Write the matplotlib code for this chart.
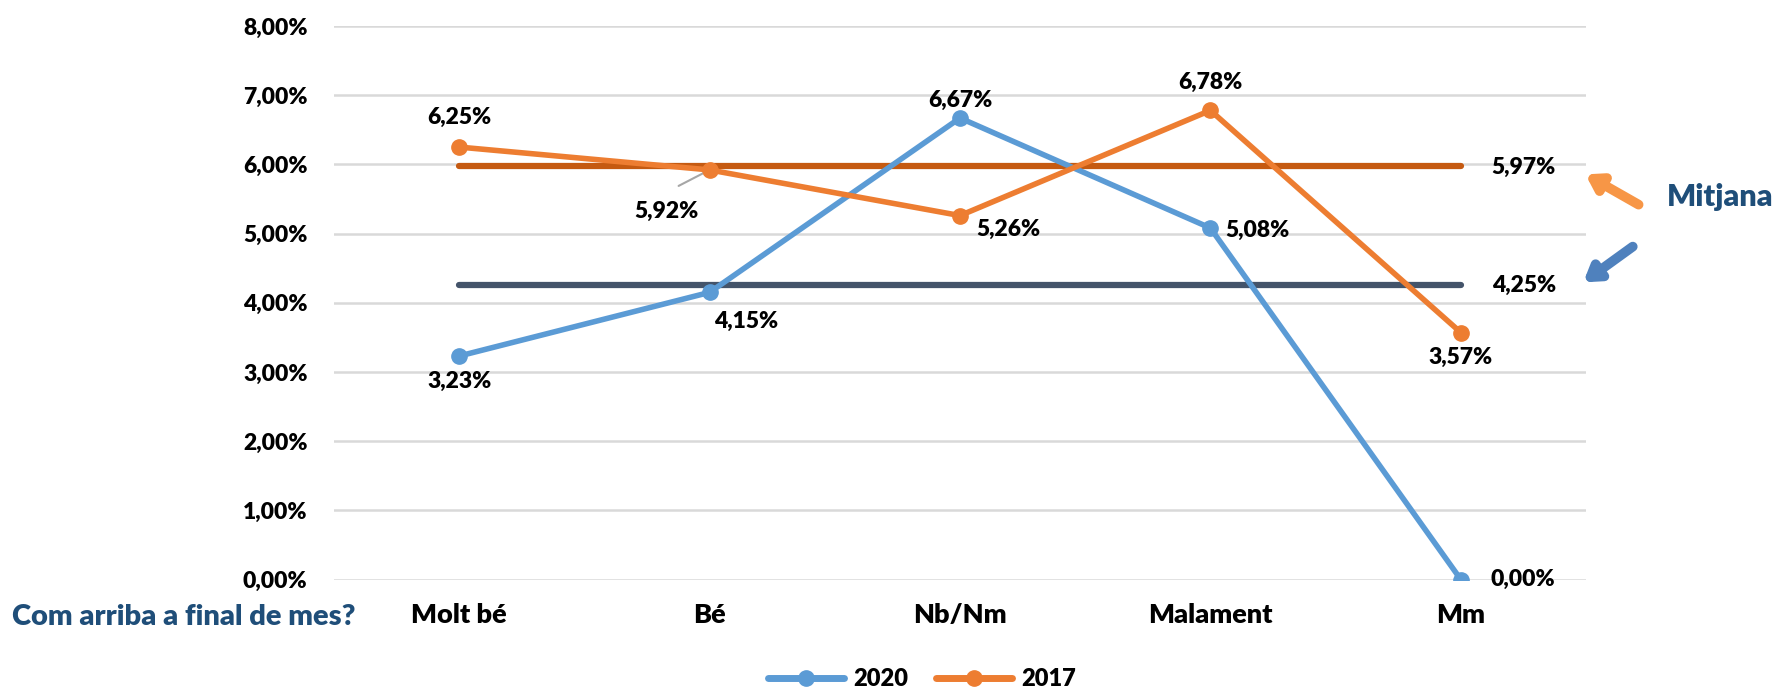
import matplotlib
matplotlib.use("Agg")
import matplotlib.pyplot as plt
from matplotlib.lines import Line2D
from matplotlib.patches import FancyArrowPatch

categories = ["Molt bé", "Bé", "Nb/Nm", "Malament", "Mm"]
s2020 = [3.23, 4.15, 6.67, 5.08, 0.00]
s2017 = [6.25, 5.92, 5.26, 6.78, 3.57]
mean2017 = 5.97
mean2020 = 4.25
yticks = [0, 1, 2, 3, 4, 5, 6, 7, 8]

C2020 = "#5B9BD5"
C2017 = "#ED7D31"
CM17 = "#C55A11"
CM20 = "#44546A"
NAVY = "#1F4E79"

NUM = 16.5
WORD = 19.5
W = 'heavy'

plt.rcParams['font.family'] = ['Lato', 'DejaVu Sans']
plt.rcParams['font.weight'] = W

fig = plt.figure(figsize=(17.78, 6.93), dpi=100)
ax = fig.add_axes([334/1778, 1-579.5/693, (1586-334)/1778, (579.5-26)/693])

x = list(range(len(categories)))
ax.plot([x[0], x[-1]], [mean2017]*2, color=CM17, lw=4.5, solid_capstyle='round', zorder=2)
ax.plot([x[0], x[-1]], [mean2020]*2, color=CM20, lw=4.5, solid_capstyle='round', zorder=2)
ax.plot(x, s2020, color=C2020, lw=4, marker='o', ms=11, zorder=3, label="2020")
ax.plot(x, s2017, color=C2017, lw=4, marker='o', ms=11, zorder=4, label="2017")

ax.set_xlim(-0.5, 4.5)
ax.set_ylim(0, 8)
ax.set_yticks(yticks)
ax.set_yticklabels([f"{v:.2f}%".replace(".", ",") for v in yticks])
ax.set_xticks(x)
ax.set_xticklabels(categories)
ax.grid(axis='y', color='#D9D9D9', lw=1.8, zorder=0)
ax.set_axisbelow(True)
for s in ax.spines.values():
    s.set_visible(False)
ax.tick_params(length=0)
ax.tick_params(axis='y', pad=19, labelsize=NUM)
ax.tick_params(axis='x', pad=17, labelsize=WORD)
for t in ax.get_xticklabels() + ax.get_yticklabels():
    t.set_fontweight(W)

def fmt(v):
    return f"{v:.2f}%".replace(".", ",")

off2020 = [(0, -25), (36, -29), (0, 18), (47, -2), (62, 0)]
off2017 = [(0, 30), (-43, -41), (48, -14), (0, 28), (0, -25)]
for i, v in enumerate(s2020):
    ax.annotate(fmt(v), (x[i], v), xytext=off2020[i], textcoords='offset pixels',
                ha='center', va='center', fontsize=NUM, fontweight=W, zorder=6)
for i, v in enumerate(s2017):
    ax.annotate(fmt(v), (x[i], v), xytext=off2017[i], textcoords='offset pixels',
                ha='center', va='center', fontsize=NUM, fontweight=W, zorder=6)
# leader line for 5,92%
ax.annotate("", (x[1], s2017[1]), xytext=(-31, -16), textcoords='offset pixels',
            arrowprops=dict(arrowstyle='-', color='#A6A6A6', lw=1.5, shrinkA=0, shrinkB=0))

ax.annotate(fmt(mean2017), (x[-1], mean2017), xytext=(63, -1), textcoords='offset pixels',
            ha='center', va='center', fontsize=NUM, fontweight=W)
ax.annotate(fmt(mean2020), (x[-1], mean2020), xytext=(63, 0), textcoords='offset pixels',
            ha='center', va='center', fontsize=NUM, fontweight=W)

H = 693
fig.text(1720/1778, 1-197/H, "Mitjana", color=NAVY, fontsize=22, fontweight=W,
         ha='center', va='center')
fig.text(12/1778, 1-617/H, "Com arriba a final de mes?", color=NAVY, fontsize=21,
         fontweight=W, ha='left', va='center')

fig.add_artist(FancyArrowPatch(
    (1641/1778, 1-206/H), (1583/1778, 1-173/H), transform=fig.transFigure,
    arrowstyle='-|>,head_length=0.7,head_width=0.45', mutation_scale=12,
    color='#F79646', lw=7, capstyle='round'))
fig.add_artist(FancyArrowPatch(
    (1635/1778, 1-245/H), (1581/1778, 1-284/H), transform=fig.transFigure,
    arrowstyle='-|>,head_length=0.7,head_width=0.45', mutation_scale=12,
    color='#4F81BD', lw=7, capstyle='round'))

handles = [Line2D([], [], color=C2020, lw=5, marker='o', ms=11, solid_capstyle='round'),
           Line2D([], [], color=C2017, lw=5, marker='o', ms=11, solid_capstyle='round')]
leg = fig.legend(handles, ["2020", "2017"], loc='center', bbox_to_anchor=(922/1778, 1-679/H),
                 ncol=2, frameon=False, fontsize=NUM + 0.5, handlelength=3.2, columnspacing=1.2,
                 handletextpad=0.4)
for t in leg.get_texts():
    t.set_fontweight(W)

fig.savefig("out.png", dpi=100)
